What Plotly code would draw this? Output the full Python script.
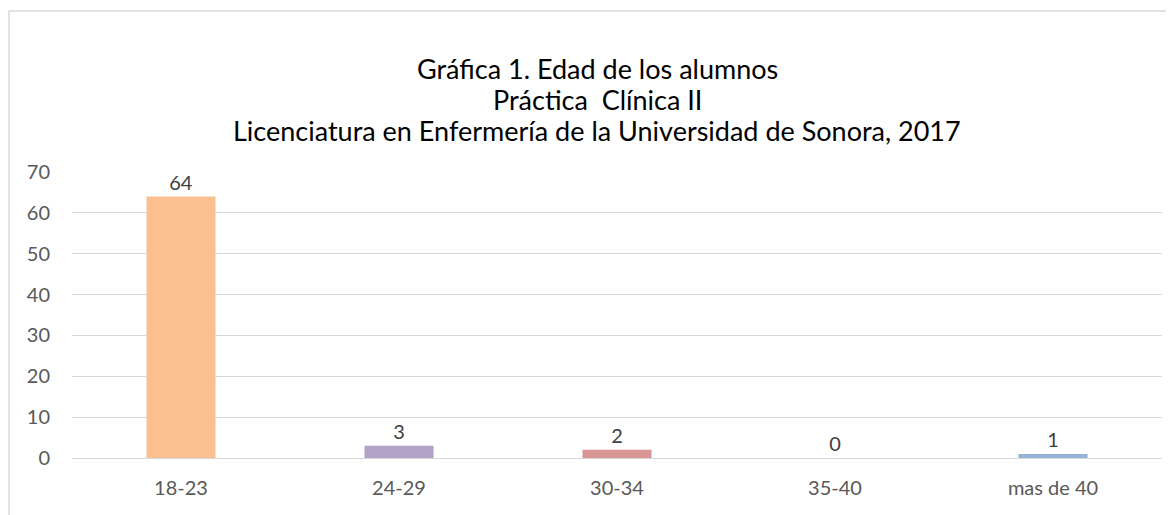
import plotly.graph_objects as go

categories = ["18-23", "24-29", "30-34", "35-40", "mas de 40"]
values = [64, 3, 2, 0, 1]
bar_colors = ["#FAC090", "#B3A2C7", "#D99694", "#A6A6A6", "#95B3D7"]
y_ticks = [0, 10, 20, 30, 40, 50, 60, 70]
title_lines = [
    "Gráfica 1. Edad de los alumnos",
    "Práctica  Clínica II",
    "Licenciatura en Enfermería de la Universidad de Sonora, 2017",
]

FONT = "Lato, Open Sans, sans-serif"
# The page body has an 8px margin, so the figure is sized to fit the window.
W, H = 1166, 507
L, R, T, B = 64, 12, 164, 57
pw, ph = W - L - R, H - T - B

fig = go.Figure(
    go.Bar(
        x=categories,
        y=values,
        marker=dict(color=bar_colors, line=dict(width=0)),
        width=0.317,
        text=[str(v) for v in values],
        textposition="outside",
        textfont=dict(family=FONT, size=20, color="#404040"),
        cliponaxis=False,
    )
)

fig.update_layout(
    width=W,
    height=H,
    margin=dict(l=L, r=R, t=T, b=B),
    paper_bgcolor="white",
    plot_bgcolor="white",
    showlegend=False,
    font=dict(family=FONT, color="#595959", size=20),
    yaxis=dict(
        range=[0, 70],
        tickvals=y_ticks,
        showgrid=True,
        gridcolor="#D9D9D9",
        gridwidth=1,
        zeroline=True,
        zerolinecolor="#D9D9D9",
        zerolinewidth=1,
        showline=False,
        ticks="",
        tickfont=dict(family=FONT, size=20, color="#595959"),
        ticklabelstandoff=21,
    ),
    xaxis=dict(
        showgrid=False,
        showline=False,
        ticks="",
        tickfont=dict(family=FONT, size=20, color="#595959"),
        ticklabelstandoff=16,
    ),
)

# Title lines (centred on the whole chart box, not the plot area)
title_x = (589 - L) / pw
title_centers = [60.5, 91.5, 122.5]
for line, ypx in zip(title_lines, title_centers):
    fig.add_annotation(
        text=line,
        xref="paper",
        yref="paper",
        x=title_x,
        y=(H - B - ypx) / ph,
        xanchor="center",
        yanchor="middle",
        showarrow=False,
        font=dict(family=FONT, size=27, color="#000000"),
    )

# Chart border (left and top visible)
x0 = (1 - L) / pw
y_top = (H - B - 3) / ph
y_bot = (H - B - 520) / ph
x_right = (1180 - L) / pw
fig.add_shape(type="line", xref="paper", yref="paper", x0=x0, x1=x0, y0=y_bot, y1=y_top,
              line=dict(color="#D9D9D9", width=1.5))
fig.add_shape(type="line", xref="paper", yref="paper", x0=x0, x1=x_right, y0=y_top, y1=y_top,
              line=dict(color="#D9D9D9", width=1.5))

fig.write_html("out.html")
